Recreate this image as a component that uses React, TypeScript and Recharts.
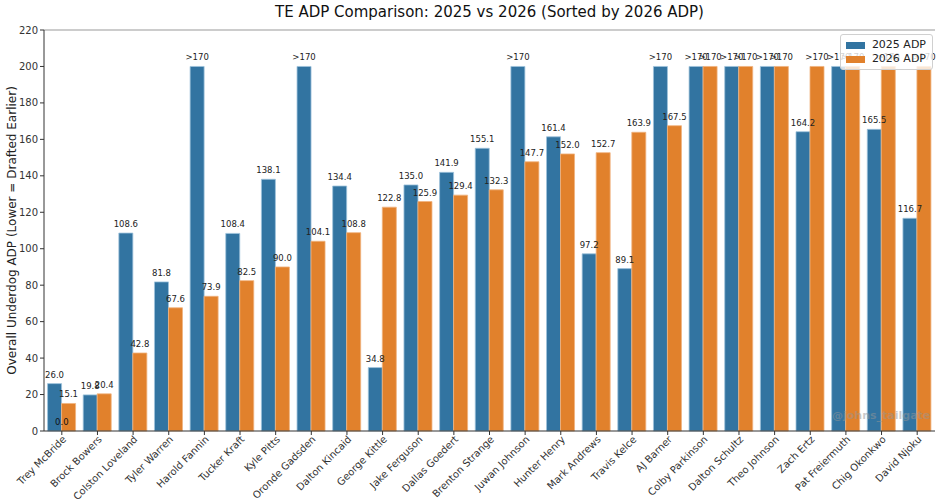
import { BarChart, Bar, XAxis, YAxis, LabelList, ReferenceDot, ReferenceLine } from "recharts";

// Players sorted by 2026 ADP; 200 stands for an ADP later than 170
const players = [
  "Trey McBride", "Brock Bowers", "Colston Loveland", "Tyler Warren", "Harold Fannin",
  "Tucker Kraft", "Kyle Pitts", "Oronde Gadsden", "Dalton Kincaid", "George Kittle",
  "Jake Ferguson", "Dallas Goedert", "Brenton Strange", "Juwan Johnson", "Hunter Henry",
  "Mark Andrews", "Travis Kelce", "AJ Barner", "Colby Parkinson", "Dalton Schultz",
  "Theo Johnson", "Zach Ertz", "Pat Freiermuth", "Chig Okonkwo", "David Njoku",
];
const adp2025 = [
  26.0, 19.8, 108.6, 81.8, 200, 108.4, 138.1, 200, 134.4, 34.8,
  135.0, 141.9, 155.1, 200, 161.4, 97.2, 89.1, 200, 200, 200,
  200, 164.2, 200, 165.5, 116.7,
];
const adp2026 = [
  15.1, 20.4, 42.8, 67.6, 73.9, 82.5, 90.0, 104.1, 108.8, 122.8,
  125.9, 129.4, 132.3, 147.7, 152.0, 152.7, 163.9, 167.5, 200, 200,
  200, 200, 200, 200, 200,
];
const yTicks = [0, 20, 40, 60, 80, 100, 120, 140, 160, 180, 200, 220];
const seriesNames = ["2025 ADP", "2026 ADP"];
const OFF_BOARD = 200;
const Y_MAX = 220;
const stray = { player: "Trey McBride", value: 0, text: "0.0" };

const data = players.map((p, i) => ({ player: p, a2025: adp2025[i], a2026: adp2026[i] }));

const BLUE = "#3274a1";
const ORANGE = "#e1812c";
const FONT = "DejaVu Sans, sans-serif";

const fmt = (v: any) => (Number(v) >= OFF_BOARD ? ">170" : Number(v).toFixed(1));

const YLabel = (props: any) => {
  const { viewBox } = props;
  const cy = viewBox ? viewBox.y + viewBox.height / 2 : 230;
  return (
    <text
      x={12}
      y={cy}
      transform={`rotate(-90, 12, ${cy})`}
      textAnchor="middle"
      dominantBaseline="central"
      fontFamily={FONT}
      fontSize={12}
      fill="#222"
    >
      Overall Underdog ADP (Lower = Drafted Earlier)
    </text>
  );
};

export default function App() {
  return (
    <div style={{ position: "absolute", left: 0, top: 0, width: 941, height: 500, background: "#fff" }}>
      <div
        style={{
          position: "absolute",
          top: 3,
          left: 44,
          width: 891,
          textAlign: "center",
          fontFamily: FONT,
          fontSize: 15,
          color: "#111",
        }}
      >
        TE ADP Comparison: 2025 vs 2026 (Sorted by 2026 ADP)
      </div>
      <BarChart
        width={941}
        height={500}
        data={data}
        margin={{ top: 30, right: 6, bottom: 0, left: 0 }}
        barCategoryGap="10%"
        barGap={0}
      >
        <XAxis
          dataKey="player"
          height={69}
          interval={0}
          tick={{ fontFamily: FONT, fontSize: 10, fill: "#333", angle: -45, textAnchor: "end", dy: -2 } as any}
          tickLine={{ stroke: "#333" }}
          tickSize={4}
          axisLine={{ stroke: "#333" }}
        />
        <YAxis
          width={44}
          domain={[0, Y_MAX]}
          ticks={yTicks}
          interval={0}
          tick={{ fontFamily: FONT, fontSize: 10, fill: "#333" }}
          tickLine={{ stroke: "#333" }}
          tickSize={4}
          axisLine={{ stroke: "#333" }}
          label={<YLabel />}
        />
        <YAxis yAxisId="right" orientation="right" width={0} tick={false} tickLine={false} axisLine={{ stroke: "#333" }} />
        <ReferenceLine y={Y_MAX} stroke="#999" strokeWidth={1.2} />
        <Bar dataKey="a2025" name={seriesNames[0]} fill={BLUE} stroke="#9ec3dc" strokeWidth={0.8} isAnimationActive={false}>
          <LabelList dataKey="a2025" position="top" offset={6} formatter={fmt} style={{ fontFamily: FONT, fontSize: 8.5, fill: "#222" }} />
        </Bar>
        <Bar dataKey="a2026" name={seriesNames[1]} fill={ORANGE} stroke="#f0b27e" strokeWidth={0.8} isAnimationActive={false}>
          <LabelList dataKey="a2026" position="top" offset={6} formatter={fmt} style={{ fontFamily: FONT, fontSize: 8.5, fill: "#222" }} />
        </Bar>
        <ReferenceDot
          x={stray.player}
          y={stray.value}
          r={0}
          stroke="none"
          label={{ value: stray.text, position: "top", offset: 6, style: { fontFamily: FONT, fontSize: 8.5, fill: "#111" } }}
        />
      </BarChart>
      <div
        style={{
          position: "absolute",
          top: 34,
          right: 8,
          border: "1px solid #d0d0d0",
          borderRadius: 3,
          background: "rgba(255,255,255,0.8)",
          padding: "3px 6px 3px 5px",
          fontFamily: FONT,
          fontSize: 11,
          color: "#222",
          lineHeight: "14px",
        }}
      >
        {seriesNames.map((name, i) => (
          <div key={name} style={{ display: "flex", alignItems: "center" }}>
            <span style={{ display: "inline-block", width: 19, height: 7, background: i === 0 ? BLUE : ORANGE, marginRight: 7 }} />
            {name}
          </div>
        ))}
      </div>
      <div
        style={{
          position: "absolute",
          left: 832,
          top: 409,
          fontFamily: FONT,
          fontSize: 11,
          fontWeight: "bold",
          color: "rgba(150,150,150,0.5)",
        }}
      >
        @johns_tailgate
      </div>
    </div>
  );
}
